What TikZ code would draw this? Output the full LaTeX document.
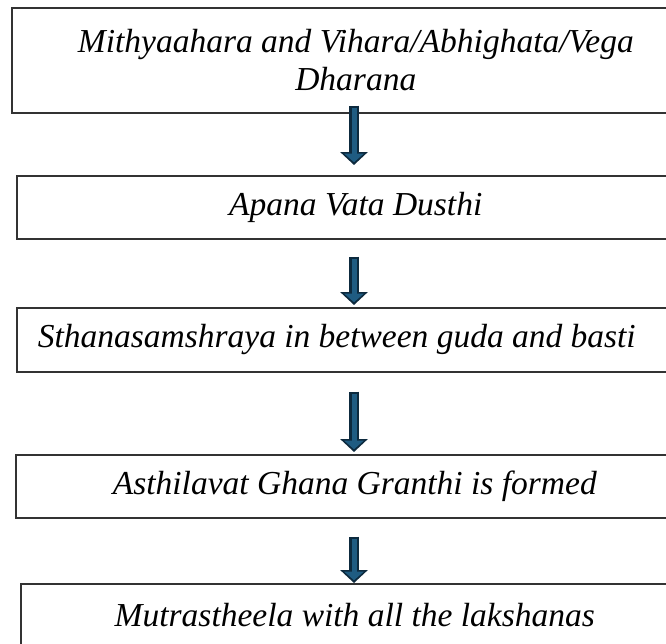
\documentclass[tikz,border=0pt]{standalone}
\usepackage{fontspec}
\setmainfont{Liberation Serif}
\usepackage{tikz}
\usetikzlibrary{arrows.meta,positioning,calc}

\definecolor{arrowdark}{HTML}{0D2A3E}
\definecolor{arrowblue}{HTML}{1F5C82}

\begin{document}
\begin{tikzpicture}[
    x=1pt, y=-1pt,
    stage/.style={rectangle, draw=black!80, line width=1.6pt, anchor=north west, inner sep=0pt, font=\fontsize{33.5}{38}\selectfont\itshape},
    flowarrow/.style={line width=10pt, draw=arrowdark, -{Triangle[width=27pt,length=13pt]},
        postaction={draw=arrowblue, line width=5pt, shorten <=2pt, shorten >=2.8pt, -{Triangle[width=19pt,length=8.5pt]}}}
]
\useasboundingbox (0,0) rectangle (666,643);
\clip (0,0) rectangle (666,643);

% arrow line
\coordinate (ax) at (354,0);

% Stages
\node[stage, minimum width=688pt, minimum height=105pt, align=center] (cause) at (11,7)
    {Mithyaahara and Vihara/Abhighata/Vega\\Dharana};
\node[stage, minimum width=678pt, minimum height=63pt] (apana) at (16,175) {Apana Vata Dusthi};
\node[stage, minimum width=678pt, minimum height=64pt, text width=636pt, inner xsep=21pt, align=left] (sthana) at (16,307)
    {\spaceskip=8.3pt Sthanasamshraya in between guda and basti};
\node[stage, minimum width=678pt, minimum height=63pt] (granthi) at (15,454) {Asthilavat Ghana Granthi is formed};
\node[stage, minimum width=668pt, minimum height=62pt] (mutra) at (20,583) {Mutrastheela with all the lakshanas};

% Arrows
\draw[flowarrow] ($(cause.south -| ax)+(0,-8)$) -- ($(apana.north -| ax)+(0,-10)$);
\draw[flowarrow] ($(apana.south -| ax)+(0,17)$) -- ($(sthana.north -| ax)+(0,-2)$);
\draw[flowarrow] ($(sthana.south -| ax)+(0,19)$) -- ($(granthi.north -| ax)+(0,-2)$);
\draw[flowarrow] ($(granthi.south -| ax)+(0,18)$) -- (mutra.north -| ax);

\end{tikzpicture}
\end{document}
